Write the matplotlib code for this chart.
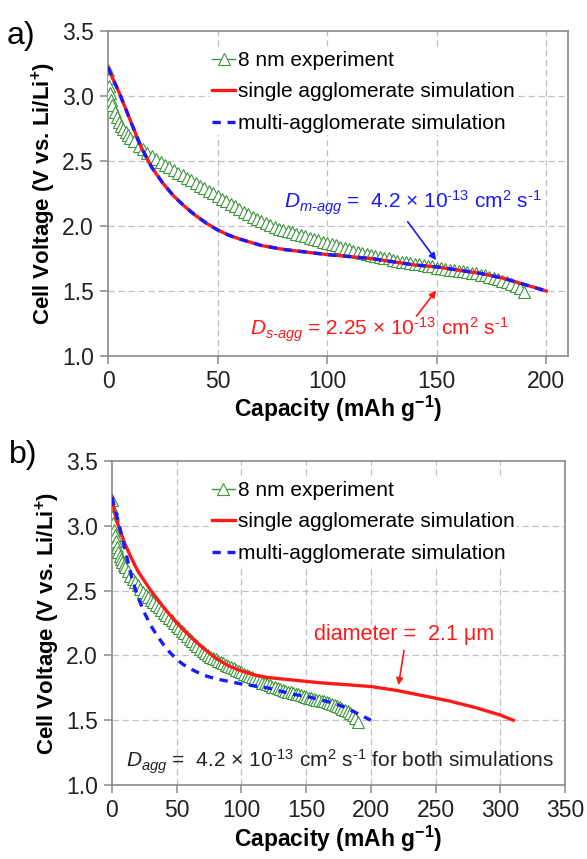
import matplotlib.pyplot as plt

plt.rcParams['font.family'] = ['Liberation Sans', 'DejaVu Sans']
plt.rcParams['mathtext.fontset'] = 'custom'
plt.rcParams['mathtext.rm'] = 'Liberation Sans'
plt.rcParams['mathtext.it'] = 'Liberation Sans:italic'
plt.rcParams['mathtext.bf'] = 'Liberation Sans:bold'

# ────────────────────────────────────────────────
# Data
# ────────────────────────────────────────────────

# 8 nm experiment (same in both panels)
exp_cap = [0, 0.3, 0.6, 1, 1.5, 2, 3, 4, 5, 6, 7, 8, 9, 10,
           12, 14, 16, 18, 20, 22, 24, 26, 28, 30, 32, 34, 36, 38, 40,
           42, 44, 46, 48, 50, 52, 54, 56, 58, 60, 62, 64, 66, 68, 70,
           72, 74, 76, 78, 80, 82, 84, 86, 88, 90, 92, 94, 96, 98, 100,
           102, 104, 106, 108, 110, 112, 114, 116, 118, 120, 122, 124, 126, 128, 130,
           132, 134, 136, 138, 140, 142, 144, 146, 148, 150, 152, 154, 156, 158, 160,
           162, 164, 166, 168, 170, 172, 174, 176, 178, 180, 182, 184, 186, 188, 190]
exp_v = [3.20, 3.14, 3.08, 3.02, 2.97, 2.93, 2.88, 2.84, 2.80, 2.77, 2.745, 2.72, 2.70, 2.68,
         2.65, 2.615, 2.59, 2.565, 2.54, 2.515, 2.49, 2.47, 2.45, 2.43, 2.41, 2.39, 2.37, 2.35, 2.33,
         2.31, 2.29, 2.27, 2.25, 2.23, 2.21, 2.19, 2.17, 2.15, 2.13, 2.11, 2.09, 2.07, 2.05, 2.035,
         2.02, 2.005, 1.99, 1.98, 1.97, 1.96, 1.95, 1.94, 1.93, 1.92, 1.91, 1.90, 1.89, 1.88, 1.87,
         1.86, 1.85, 1.84, 1.83, 1.82, 1.81, 1.80, 1.79, 1.785, 1.78, 1.77, 1.76, 1.755, 1.75, 1.74,
         1.73, 1.725, 1.72, 1.715, 1.71, 1.705, 1.70, 1.695, 1.69, 1.68, 1.675, 1.67, 1.665, 1.66, 1.655,
         1.65, 1.645, 1.64, 1.635, 1.625, 1.62, 1.61, 1.60, 1.59, 1.58, 1.57, 1.555, 1.54, 1.52, 1.49]

# simulations fitted with agglomerate diffusivity (panel a: single == multi)
sim_cap = [0, 2, 5, 10, 15, 20, 25, 30, 35, 40, 45, 50, 55, 60, 70, 80, 90, 100,
           110, 120, 130, 140, 150, 160, 170, 180, 190, 200]
sim_v = [3.22, 3.14, 3.03, 2.82, 2.61, 2.45, 2.33, 2.23, 2.15, 2.08, 2.02, 1.97,
         1.93, 1.90, 1.85, 1.82, 1.80, 1.78, 1.765, 1.75, 1.725, 1.70, 1.685,
         1.66, 1.635, 1.60, 1.55, 1.50]

# panel b: single agglomerate with diameter 2.1 um
single_b_cap = [0, 2, 5, 10, 15, 20, 30, 40, 50, 60, 70, 80, 90, 100, 110, 120,
                140, 160, 180, 200, 220, 240, 260, 280, 300, 310]
single_b_v = [3.22, 3.10, 3.00, 2.86, 2.75, 2.65, 2.50, 2.37, 2.25, 2.15, 2.06,
              1.98, 1.92, 1.88, 1.85, 1.83, 1.81, 1.79, 1.775, 1.76, 1.73, 1.69,
              1.65, 1.60, 1.54, 1.50]

labels = ["8 nm experiment", "single agglomerate simulation",
          "multi-agglomerate simulation"]

green = '#3c963c'
red = '#ff1a1a'
blue = '#1a1aff'
grid_c = '#c0c0c0'
spine_c = '#8a8a8a'

fig = plt.figure(figsize=(5.87, 8.59), dpi=100)
ax_a = fig.add_axes([0.184, 0.5856, 0.784, 0.3783])
ax_b = fig.add_axes([0.1908, 0.0861, 0.7717, 0.3772])


def style_axes(ax, xmax, xticks):
    ax.set_xlim(0, xmax)
    ax.set_ylim(1.0, 3.5)
    ax.set_xticks(xticks)
    ax.set_yticks([1.0, 1.5, 2.0, 2.5, 3.0, 3.5])
    ax.set_yticklabels(['1.0', '1.5', '2.0', '2.5', '3.0', '3.5'])
    for x in xticks[1:]:
        ax.axvline(x, color=grid_c, ls=(0, (5, 3)), lw=0.9, zorder=0)
    for y in [1.5, 2.0, 2.5, 3.0]:
        ax.axhline(y, color=grid_c, ls=(0, (5, 3)), lw=0.9, zorder=0)
    for s in ax.spines.values():
        s.set_color(spine_c)
        s.set_linewidth(1.2)
    ax.tick_params(direction='out', length=6, width=1.1, color=spine_c,
                   labelsize=16.5, labelcolor='#222222', pad=4)
    ax.set_xlabel('Capacity (mAh g$^{\\mathbf{-1}}$)', fontsize=16.5,
                  fontweight='bold', labelpad=1)
    ax.set_ylabel('Cell Voltage (V vs. Li/Li$^{\\mathbf{+}}$)', fontsize=16,
                  fontweight='bold', labelpad=3)


def plot_exp(ax):
    ax.plot(exp_cap, exp_v, color=green, lw=1, marker='^', markersize=9,
            markerfacecolor='white', markeredgecolor=green, markeredgewidth=0.8,
            label=labels[0], zorder=3)


def add_legend(ax, anchor):
    leg = ax.legend(loc='upper left', bbox_to_anchor=anchor, frameon=True,
                    fontsize=15, handlelength=1.1, handletextpad=0.15,
                    labelspacing=0.6, borderpad=0.1, borderaxespad=0,
                    numpoints=1, markerscale=0.9)
    leg.get_frame().set_edgecolor('none')
    leg.get_frame().set_facecolor('white')
    leg.get_frame().set_alpha(1)


sup13 = r'10$^{\mathregular{\text{-13}}}$ cm$^{\mathregular{2}}$ s$^{\mathregular{\text{-1}}}$'

# ────────────────────────────────────────────────
# Panel a
# ────────────────────────────────────────────────
style_axes(ax_a, 210, [0, 50, 100, 150, 200])
plot_exp(ax_a)
ax_a.plot(sim_cap, sim_v, color=red, lw=2.4, label=labels[1], zorder=4)
ax_a.plot(sim_cap, sim_v, color=blue, lw=2.4, ls=(0, (2.5, 2)), label=labels[2],
          zorder=5)
add_legend(ax_a, (0.222, 0.945))

ax_a.text(139, 2.18, r'$D_{m\text{-}agg}$ =  4.2 × ' + sup13,
          color=blue, fontsize=15, ha='center', va='center')
ax_a.annotate('', xy=(150.5, 1.72), xytext=(136, 2.05),
              arrowprops=dict(arrowstyle='-|>', color=blue, lw=1.2,
                              mutation_scale=10))
ax_a.text(124, 1.20, r'$D_{s\text{-}agg}$ = 2.25 × ' + sup13,
          color=red, fontsize=15, ha='center', va='center')
ax_a.annotate('', xy=(150.5, 1.52), xytext=(140, 1.29),
              arrowprops=dict(arrowstyle='-|>', color=red, lw=1.2,
                              mutation_scale=10))

# ────────────────────────────────────────────────
# Panel b
# ────────────────────────────────────────────────
style_axes(ax_b, 350, [0, 50, 100, 150, 200, 250, 300, 350])
plot_exp(ax_b)
ax_b.plot(single_b_cap, single_b_v, color=red, lw=2.4, label=labels[1], zorder=4)
ax_b.plot(sim_cap, sim_v, color=blue, lw=2.4, ls=(0, (2.5, 2)), label=labels[2],
          zorder=5)
add_legend(ax_b, (0.216, 0.945))

ax_b.text(226, 2.16, 'diameter =  2.1 μm', color=red, fontsize=15.5,
          ha='center', va='center')
ax_b.annotate('', xy=(221, 1.75), xytext=(226, 2.06),
              arrowprops=dict(arrowstyle='-|>', color=red, lw=1.2,
                              mutation_scale=10))
ax_b.text(176, 1.18, r'$D_{agg}$ =  4.2 × ' + sup13 + ' for both simulations',
          color='#222222', fontsize=15, ha='center', va='center')

fig.text(0.012, 0.958, 'a)', fontsize=23, va='center', ha='left')
fig.text(0.016, 0.47, 'b)', fontsize=23, va='center', ha='left')

plt.savefig('out.png', dpi=100)
